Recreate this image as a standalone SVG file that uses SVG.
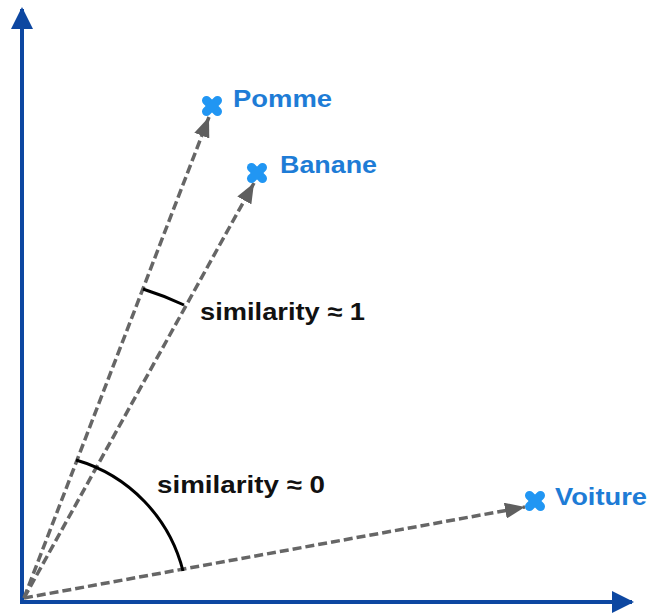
<svg xmlns="http://www.w3.org/2000/svg" width="649" height="615" viewBox="0 0 649 615">
<style>
.axis{stroke:#0D47A1;stroke-width:4;fill:none}
.vec{stroke:#666666;stroke-width:3.5;stroke-dasharray:9 4;fill:none}
.ang{stroke:#000;stroke-width:3;fill:none}
.cross{stroke:#2196F3;stroke-width:9;stroke-linecap:round}
.lbl{font-family:"Liberation Sans",Arial,sans-serif;font-weight:bold;font-size:24px;fill:#1E7CD6}
.sim{font-family:"Liberation Sans",Arial,sans-serif;font-weight:bold;font-size:24px;fill:#111}
</style>
<defs>
<marker id="axhead" viewBox="0 0 22 22" refX="20" refY="11" markerWidth="22" markerHeight="22" markerUnits="userSpaceOnUse" orient="auto">
<path d="M0,0 L22,11 L0,22 z" fill="#0D47A1"/>
</marker>
<marker id="vhead" viewBox="0 0 20 16" refX="20" refY="8" markerWidth="20" markerHeight="16" markerUnits="userSpaceOnUse" orient="auto">
<path d="M0,0 L20,8 L0,16 z" fill="#5f5f5f"/>
</marker>
</defs>
<g id="axes">
<line class="axis" x1="22" y1="602" x2="22" y2="9" marker-end="url(#axhead)"/>
<line class="axis" x1="20" y1="602" x2="632" y2="602" marker-end="url(#axhead)"/>
</g>
<g id="connectors">
<line class="vec" x1="24" y1="598" x2="209" y2="117" marker-end="url(#vhead)"/>
<line class="vec" x1="24" y1="598" x2="254" y2="183" marker-end="url(#vhead)"/>
<line class="vec" x1="24" y1="598" x2="525" y2="507" marker-end="url(#vhead)"/>
<path class="ang" d="M143,289 A333,333 0 0 1 184,305"/>
<path class="ang" d="M76,460 A155,155 0 0 1 183,571"/>
</g>
<g id="pomme">
<g class="cross" transform="translate(212,106)"><line x1="-5.5" y1="-5.5" x2="5.5" y2="5.5"/><line x1="-5.5" y1="5.5" x2="5.5" y2="-5.5"/></g>
<text class="lbl" x="233" y="107" textLength="99" lengthAdjust="spacingAndGlyphs">Pomme</text>
</g>
<g id="banane">
<g class="cross" transform="translate(257,173)"><line x1="-5.5" y1="-5.5" x2="5.5" y2="5.5"/><line x1="-5.5" y1="5.5" x2="5.5" y2="-5.5"/></g>
<text class="lbl" x="280" y="173" textLength="97" lengthAdjust="spacingAndGlyphs">Banane</text>
</g>
<g id="voiture">
<g class="cross" transform="translate(535,501)"><line x1="-5.5" y1="-5.5" x2="5.5" y2="5.5"/><line x1="-5.5" y1="5.5" x2="5.5" y2="-5.5"/></g>
<text class="lbl" x="555" y="505" textLength="92" lengthAdjust="spacingAndGlyphs">Voiture</text>
</g>
<g id="sim1">
<text class="sim" x="200" y="320" textLength="165" lengthAdjust="spacingAndGlyphs">similarity ≈ 1</text>
</g>
<g id="sim0">
<text class="sim" x="157" y="493" textLength="168" lengthAdjust="spacingAndGlyphs">similarity ≈ 0</text>
</g>
</svg>
